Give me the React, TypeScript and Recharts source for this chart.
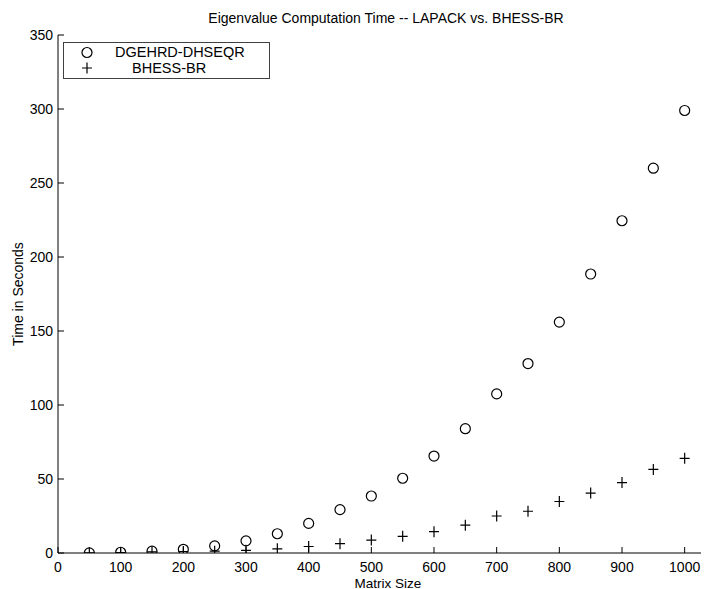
import React from "react";
import { ScatterChart, Scatter, XAxis, YAxis } from "recharts";

const matrixSizes = [50, 100, 150, 200, 250, 300, 350, 400, 450, 500, 550, 600, 650, 700, 750, 800, 850, 900, 950, 1000];
const lapackTimes = [0.1, 0.5, 1.2, 2.5, 4.8, 8.2, 13, 20, 29.3, 38.5, 50.5, 65.5, 84, 107.5, 128, 156, 188.5, 224.5, 260, 299];
const bhessTimes = [0.1, 0.3, 0.7, 1.0, 1.2, 1.8, 2.8, 4.4, 6.3, 8.7, 11.3, 14.4, 18.8, 25, 28.2, 34.8, 40.5, 47.6, 56.5, 64];
const xTicks = [0, 100, 200, 300, 400, 500, 600, 700, 800, 900, 1000];
const yTicks = [0, 50, 100, 150, 200, 250, 300, 350];
const seriesNames = ["DGEHRD-DHSEQR", "BHESS-BR"];
const titleText = "Eigenvalue Computation Time -- LAPACK vs. BHESS-BR";
const xLabel = "Matrix Size";
const yLabel = "Time in Seconds";

const lapackData = matrixSizes.map((x, i) => ({ x, y: lapackTimes[i] }));
const bhessData = matrixSizes.map((x, i) => ({ x, y: bhessTimes[i] }));

const FONT = '"Liberation Sans", Arial, Helvetica, sans-serif';

const CircleShape = (props: any) => {
  const { cx, cy } = props;
  if (cx == null || cy == null) return null;
  return <circle cx={cx} cy={cy} r={5} fill="none" stroke="#000" strokeWidth={1.2} />;
};

const PlusShape = (props: any) => {
  const { cx, cy } = props;
  if (cx == null || cy == null) return null;
  return (
    <path
      d={`M${cx - 5},${cy}H${cx + 5}M${cx},${cy - 5.5}V${cy + 5.5}`}
      stroke="#000"
      strokeWidth={1.2}
      fill="none"
    />
  );
};

const BottomTick = (props: any) => {
  const { x, y, payload } = props;
  return (
    <g>
      <line x1={x} y1={y} x2={x} y2={y - 6} stroke="#000" strokeWidth={1} />
      <text x={x} y={y + 19} textAnchor="middle" fontSize={14} fontFamily={FONT} fill="#000">
        {payload.value}
      </text>
    </g>
  );
};

const TopTick = (props: any) => {
  const { x, y } = props;
  return <line x1={x} y1={y} x2={x} y2={y + 6} stroke="#000" strokeWidth={1} />;
};

const LeftTick = (props: any) => {
  const { x, y, payload } = props;
  return (
    <g>
      <line x1={x} y1={y} x2={x + 6} y2={y} stroke="#000" strokeWidth={1} />
      <text x={x - 5} y={y + 5} textAnchor="end" fontSize={14} fontFamily={FONT} fill="#000">
        {payload.value}
      </text>
    </g>
  );
};

const RightTick = (props: any) => {
  const { x, y } = props;
  return <line x1={x} y1={y} x2={x - 6} y2={y} stroke="#000" strokeWidth={1} />;
};

export default function App() {
  return (
    <div style={{ position: "relative", width: 701, height: 581, overflow: "hidden", background: "#fff" }}>
      <ScatterChart
        width={720}
        height={581}
        margin={{ top: 27, right: 12, bottom: 0, left: 0 }}
      >
        <XAxis
          xAxisId="bottom"
          dataKey="x"
          type="number"
          domain={[0, 1050]}
          ticks={xTicks}
          orientation="bottom"
          height={36}
          tickSize={0}
          tickMargin={0}
          tickLine={false}
          tick={<BottomTick />}
          axisLine={{ stroke: "#000", strokeWidth: 1 }}
          allowDataOverflow
        />
        <XAxis
          xAxisId="top"
          dataKey="x"
          type="number"
          domain={[0, 1050]}
          ticks={xTicks}
          orientation="top"
          height={0}
          tickSize={0}
          tickMargin={0}
          tickLine={false}
          tick={<TopTick />}
          axisLine={{ stroke: "#000", strokeWidth: 1 }}
          allowDataOverflow
        />
        <YAxis
          yAxisId="left"
          dataKey="y"
          type="number"
          domain={[0, 350]}
          ticks={yTicks}
          orientation="left"
          width={50}
          tickSize={0}
          tickMargin={0}
          tickLine={false}
          tick={<LeftTick />}
          axisLine={{ stroke: "#000", strokeWidth: 1 }}
          allowDataOverflow
        />
        <YAxis
          yAxisId="right"
          dataKey="y"
          type="number"
          domain={[0, 350]}
          ticks={yTicks}
          orientation="right"
          width={0}
          tickSize={0}
          tickMargin={0}
          tickLine={false}
          tick={<RightTick />}
          axisLine={{ stroke: "#000", strokeWidth: 1 }}
          allowDataOverflow
        />
        <Scatter
          name={seriesNames[0]}
          data={lapackData}
          xAxisId="bottom"
          yAxisId="left"
          shape={<CircleShape />}
          isAnimationActive={false}
        />
        <Scatter
          name={seriesNames[1]}
          data={bhessData}
          xAxisId="bottom"
          yAxisId="left"
          shape={<PlusShape />}
          isAnimationActive={false}
        />
      </ScatterChart>
      <svg
        width={701}
        height={581}
        style={{ position: "absolute", left: 0, top: 0, pointerEvents: "none" }}
        fontFamily={FONT}
      >
        <text x={378} y={15} textAnchor="middle" fontSize={14} fill="#000">
          {titleText}
        </text>
        <text x={380} y={579.5} textAnchor="middle" fontSize={13.5} fill="#000">
          {xLabel}
        </text>
        <text x={15} y={286} textAnchor="middle" fontSize={14} fill="#000" transform="rotate(-90 15 286)">
          {yLabel}
        </text>
        <rect x={55.5} y={34.5} width={206} height={36} fill="#fff" stroke="#404040" strokeWidth={1} />
        <circle cx={79} cy={44.5} r={5} fill="none" stroke="#000" strokeWidth={1.2} />
        <path d="M74,60H84M79,54.5V65.5" stroke="#000" strokeWidth={1.2} fill="none" />
        <text x={107} y={49} fontSize={14.5} fill="#000">
          {seriesNames[0]}
        </text>
        <text x={124} y={65} fontSize={14.5} fill="#000">
          {seriesNames[1]}
        </text>
      </svg>
    </div>
  );
}
